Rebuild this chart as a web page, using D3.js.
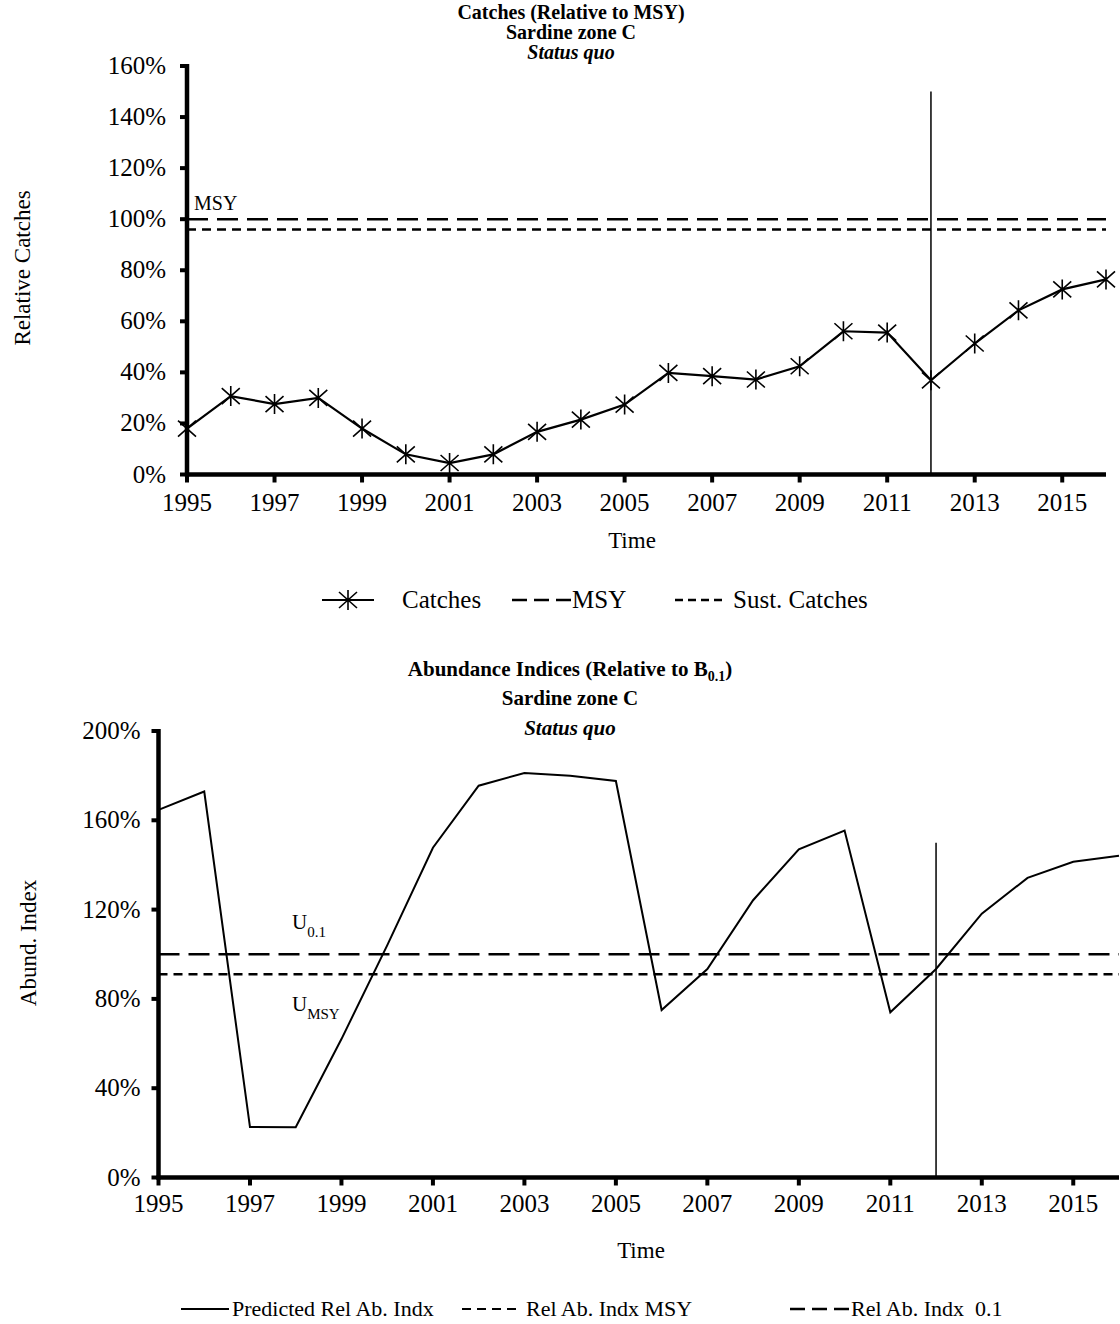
<!DOCTYPE html>
<html><head><meta charset="utf-8">
<script src="https://cdn.jsdelivr.net/npm/d3@7"></script>
<style>
body{margin:0;background:#fff;}
svg{display:block;font-family:"Liberation Serif","Times New Roman",serif;}
text{white-space:pre;}
</style></head>
<body><svg id="c" width="1120" height="1324"></svg>
<script>
const years = d3.range(1995, 2017);
const catches = [18.0,30.7,27.6,30.0,18.0,7.9,4.5,7.9,16.7,21.5,27.4,39.8,38.5,37.2,42.4,56.1,55.6,36.9,51.3,64.3,72.5,76.4];
const msyLevel = 100;
const sustCatches = 96;
const abund = [164.7,172.9,22.6,22.5,62,104,147.7,175.5,181.2,180,177.6,75,93.4,124.2,147,155.4,74,93.4,118.2,134.2,141.4,144.1];
const u01Level = 100;
const umsyLevel = 91;
const markYear = 2012;
const markTopCatch = 150;
const markTopAbund = 150;
const xTickYears = d3.range(1995, 2016, 2);
const yTicksTop = [0,20,40,60,80,100,120,140,160];
const yTicksBot = [0,40,80,120,160,200];

const svg = d3.select("#c");
const TICKF = 25, AXF = 23, LEGF = 25;

function axes(g, x, y, yTicks, x0, x1, y0, y1, labY, labGap) {
  yTicks.forEach(v => {
    g.append("line").attr("x1", x0 - 7).attr("x2", x0).attr("y1", y(v)).attr("y2", y(v))
      .attr("stroke", "#000").attr("stroke-width", 4);
    g.append("text").attr("x", x0 - labGap).attr("y", y(v) + 8).attr("text-anchor", "end")
      .attr("font-size", TICKF).text(v + "%");
  });
  xTickYears.forEach(v => {
    g.append("line").attr("x1", x(v)).attr("x2", x(v)).attr("y1", y0).attr("y2", y0 + 8)
      .attr("stroke", "#000").attr("stroke-width", 4);
    g.append("text").attr("x", x(v)).attr("y", labY).attr("text-anchor", "middle")
      .attr("font-size", TICKF).text(v);
  });
  g.append("line").attr("x1", x0).attr("x2", x0).attr("y1", y1 - 2).attr("y2", y0 + 2)
    .attr("stroke", "#000").attr("stroke-width", 4.5);
  g.append("line").attr("x1", x0 - 2).attr("x2", x1).attr("y1", y0).attr("y2", y0)
    .attr("stroke", "#000").attr("stroke-width", 4.5);
}

function star(g, cx, cy) {
  const p = d3.path();
  p.moveTo(cx, cy - 10); p.lineTo(cx, cy + 10);
  p.moveTo(cx - 9, cy - 8); p.lineTo(cx + 9, cy + 8);
  p.moveTo(cx - 9, cy + 8); p.lineTo(cx + 9, cy - 8);
  g.append("path").attr("d", p.toString()).attr("stroke", "#000").attr("stroke-width", 1.6).attr("fill", "none");
}

// ---------- Top chart ----------
{
  const g = svg.append("g");
  const x0 = 187, x1 = 1106, y0 = 474.5, y1 = 66;
  const x = d3.scaleLinear().domain([1995, 2016]).range([x0, x1]);
  const y = d3.scaleLinear().domain([0, 160]).range([y0, y1]);

  const t = g.append("g").attr("font-weight", "bold").attr("font-size", 20).attr("text-anchor", "middle");
  t.append("text").attr("x", 571).attr("y", 19).text("Catches (Relative to MSY)");
  t.append("text").attr("x", 571).attr("y", 39).text("Sardine zone C");
  t.append("text").attr("x", 571).attr("y", 59).attr("font-style", "italic").text("Status quo");

  g.append("line").attr("x1", x0).attr("x2", x1).attr("y1", y(msyLevel)).attr("y2", y(msyLevel))
    .attr("stroke", "#000").attr("stroke-width", 2.5).attr("stroke-dasharray", "21,9");
  g.append("line").attr("x1", x0).attr("x2", x1).attr("y1", y(sustCatches)).attr("y2", y(sustCatches))
    .attr("stroke", "#000").attr("stroke-width", 2.5).attr("stroke-dasharray", "9,6");
  g.append("text").attr("x", 194).attr("y", 210).attr("font-size", 20).text("MSY");

  g.append("line").attr("x1", x(markYear)).attr("x2", x(markYear)).attr("y1", y(markTopCatch)).attr("y2", y0)
    .attr("stroke", "#000").attr("stroke-width", 1.5);

  const line = d3.line().x((d, i) => x(years[i])).y(d => y(d));
  g.append("path").datum(catches).attr("d", line).attr("fill", "none").attr("stroke", "#000").attr("stroke-width", 2.2);
  catches.forEach((d, i) => star(g, x(years[i]), y(d)));

  axes(g, x, y, yTicksTop, x0, x1, y0, y1, 511, 21);

  g.append("text").attr("x", 632).attr("y", 548).attr("text-anchor", "middle").attr("font-size", AXF).text("Time");
  g.append("text").attr("transform", "translate(30,268) rotate(-90)").attr("text-anchor", "middle")
    .attr("font-size", AXF).text("Relative Catches");

  const ly = 600;
  g.append("line").attr("x1", 322).attr("x2", 374).attr("y1", ly).attr("y2", ly).attr("stroke", "#000").attr("stroke-width", 2);
  star(g, 348, ly);
  g.append("text").attr("x", 402).attr("y", ly + 8).attr("font-size", LEGF).text("Catches");
  g.append("line").attr("x1", 512).attr("x2", 571).attr("y1", ly).attr("y2", ly).attr("stroke", "#000")
    .attr("stroke-width", 2.5).attr("stroke-dasharray", "15,7");
  g.append("text").attr("x", 572).attr("y", ly + 8).attr("font-size", LEGF).text("MSY");
  g.append("line").attr("x1", 675).attr("x2", 722).attr("y1", ly).attr("y2", ly).attr("stroke", "#000")
    .attr("stroke-width", 2.5).attr("stroke-dasharray", "8,5");
  g.append("text").attr("x", 733).attr("y", ly + 8).attr("font-size", LEGF).text("Sust. Catches");
}

// ---------- Bottom chart ----------
{
  const g = svg.append("g");
  const x0 = 158.5, x1 = 1119, y0 = 1177.5, y1 = 731;
  const x = d3.scaleLinear().domain([1995, 2016]).range([x0, x1]);
  const y = d3.scaleLinear().domain([0, 200]).range([y0, y1]);

  const t = g.append("g").attr("font-weight", "bold").attr("font-size", 21).attr("text-anchor", "middle");
  const t1 = t.append("text").attr("x", 570).attr("y", 676);
  t1.append("tspan").text("Abundance Indices (Relative to B");
  t1.append("tspan").attr("font-size", 14).attr("dy", 5).text("0.1");
  t1.append("tspan").attr("dy", -5).text(")");
  t.append("text").attr("x", 570).attr("y", 705).text("Sardine zone C");
  t.append("text").attr("x", 570).attr("y", 735).attr("font-style", "italic").text("Status quo");

  g.append("line").attr("x1", x0).attr("x2", x1).attr("y1", y(u01Level)).attr("y2", y(u01Level))
    .attr("stroke", "#000").attr("stroke-width", 2.5).attr("stroke-dasharray", "21,9");
  g.append("line").attr("x1", x0).attr("x2", x1).attr("y1", y(umsyLevel)).attr("y2", y(umsyLevel))
    .attr("stroke", "#000").attr("stroke-width", 2.5).attr("stroke-dasharray", "9,6");

  const u1 = g.append("text").attr("x", 292).attr("y", 929).attr("font-size", 21);
  u1.append("tspan").text("U");
  u1.append("tspan").attr("font-size", 15).attr("dy", 8).text("0.1");
  const u2 = g.append("text").attr("x", 292).attr("y", 1011).attr("font-size", 21);
  u2.append("tspan").text("U");
  u2.append("tspan").attr("font-size", 15).attr("dy", 8).text("MSY");

  g.append("line").attr("x1", x(markYear)).attr("x2", x(markYear)).attr("y1", y(markTopAbund)).attr("y2", y0)
    .attr("stroke", "#000").attr("stroke-width", 1.5);

  const line = d3.line().x((d, i) => x(years[i])).y(d => y(d));
  g.append("path").datum(abund).attr("d", line).attr("fill", "none").attr("stroke", "#000").attr("stroke-width", 2);

  axes(g, x, y, yTicksBot, x0, x1, y0, y1, 1212, 18);

  g.append("text").attr("x", 641).attr("y", 1258).attr("text-anchor", "middle").attr("font-size", AXF).text("Time");
  g.append("text").attr("transform", "translate(36,943) rotate(-90)").attr("text-anchor", "middle")
    .attr("font-size", AXF).text("Abund. Index");

  const ly = 1309, LF = 22;
  g.append("line").attr("x1", 181).attr("x2", 229).attr("y1", ly).attr("y2", ly).attr("stroke", "#000").attr("stroke-width", 2);
  g.append("text").attr("x", 232).attr("y", ly + 7).attr("font-size", LF).text("Predicted Rel Ab. Indx");
  g.append("line").attr("x1", 462).attr("x2", 518).attr("y1", ly).attr("y2", ly).attr("stroke", "#000")
    .attr("stroke-width", 2).attr("stroke-dasharray", "9,6");
  g.append("text").attr("x", 526).attr("y", ly + 7).attr("font-size", LF).text("Rel Ab. Indx MSY");
  g.append("line").attr("x1", 790).attr("x2", 849).attr("y1", ly).attr("y2", ly).attr("stroke", "#000")
    .attr("stroke-width", 2.5).attr("stroke-dasharray", "15,7");
  g.append("text").attr("x", 851).attr("y", ly + 7).attr("font-size", LF).text("Rel Ab. Indx  0.1");
}
</script></body></html>
